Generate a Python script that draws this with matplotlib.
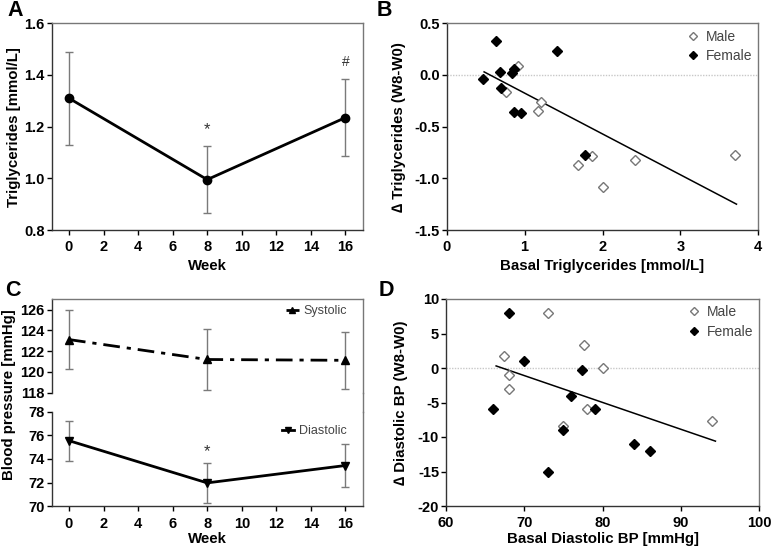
import matplotlib
matplotlib.use("Agg")
import matplotlib.pyplot as plt
from matplotlib.lines import Line2D
import numpy as np

plt.rcParams['font.family'] = ['Liberation Sans', 'DejaVu Sans']
plt.rcParams['axes.unicode_minus'] = False

# ---------------- data ----------------
weeks = [0, 8, 16]
tg_mean = [1.31, 0.995, 1.235]
tg_err = [0.18, 0.13, 0.15]

sys_mean = [123.12, 121.2, 121.12]
sys_err = [2.88, 2.96, 2.72]
dia_mean = [75.55, 71.98, 73.45]
dia_err = [1.68, 1.69, 1.86]

b_male_x = [0.92, 0.76, 1.21, 1.17, 1.69, 1.86, 2.01, 2.42, 3.70]
b_male_y = [0.09, -0.16, -0.26, -0.35, -0.87, -0.78, -1.08, -0.82, -0.77]
b_female_x = [0.46, 0.63, 0.68, 0.70, 0.84, 0.87, 0.86, 0.96, 1.41, 1.78]
b_female_y = [-0.04, 0.33, 0.03, -0.13, 0.02, 0.06, -0.36, -0.37, 0.23, -0.77]
b_fit_x = [0.48, 3.72]
b_fit_y = [0.03, -1.25]

d_male_x = [67.4, 68, 68, 73, 75, 77.6, 78, 80, 94]
d_male_y = [1.7, -1.0, -3.0, 8.0, -8.4, 3.4, -6.0, 0.0, -7.7]
d_female_x = [66, 68, 70, 73, 75, 76, 77.3, 79, 84, 86]
d_female_y = [-6, 8, 1, -15, -9, -4, -0.3, -6, -11, -12]
d_fit_x = [66.4, 94.4]
d_fit_y = [0.3, -10.6]

W, H = 772, 550
fig = plt.figure(figsize=(W / 100, H / 100), dpi=100)


def rect(l, t, r, b):
    return [l / W, 1 - b / H, (r - l) / W, (b - t) / H]


TICK_FS = 10.5
LAB_FS = 10.8
SPINE_DARK = '#333333'
SPINE_LIGHT = '#777777'
ERR_C = '#7a7a7a'


def style(ax, hide_top=False, hide_bottom=False):
    for s in ['left', 'bottom']:
        ax.spines[s].set_color(SPINE_DARK)
        ax.spines[s].set_linewidth(1.0)
    for s in ['top', 'right']:
        ax.spines[s].set_color(SPINE_LIGHT)
        ax.spines[s].set_linewidth(1.0)
    if hide_top:
        ax.spines['top'].set_visible(False)
    if hide_bottom:
        ax.spines['bottom'].set_visible(False)
    ax.tick_params(direction='out', length=3.5, width=1.0, labelsize=TICK_FS,
                   colors='black')
    ax.tick_params(axis='y', pad=1.5)
    ax.tick_params(axis='x', pad=4)
    for lab in ax.get_xticklabels() + ax.get_yticklabels():
        lab.set_fontweight('bold')


# ---------------- Panel A ----------------
axA = fig.add_axes(rect(51.7, 23.3, 362.7, 230))
axA.errorbar(weeks, tg_mean, yerr=tg_err, fmt='none', ecolor=ERR_C, elinewidth=1,
             capsize=3, capthick=1, zorder=1)
axA.plot(weeks, tg_mean, '-o', color='black', lw=2, ms=6, zorder=3)
axA.set_xlim(-1, 17)
axA.set_ylim(0.8, 1.6)
axA.set_xticks(range(0, 17, 2))
axA.set_yticks([0.8, 1.0, 1.2, 1.4, 1.6])
axA.set_yticklabels([f'{v:.1f}' for v in [0.8, 1.0, 1.2, 1.4, 1.6]])
axA.text(8, 1.187, '*', ha='center', va='center', fontsize=12, color='#333333')
axA.text(16, 1.452, '#', ha='center', va='center', fontsize=10, color='#333333')
axA.set_xlabel('Week', fontsize=LAB_FS, fontweight='bold', labelpad=3)
axA.set_ylabel('Triglycerides [mmol/L]', fontsize=LAB_FS, fontweight='bold', labelpad=2)
style(axA)

# ---------------- Panel B ----------------
axB = fig.add_axes(rect(446.7, 23.3, 758.3, 230))
axB.axhline(0, color='#c8c8c8', lw=1, ls=(0, (1, 1)), zorder=0)
axB.plot(b_fit_x, b_fit_y, '-', color='black', lw=1.1, zorder=2)
axB.plot(b_male_x, b_male_y, 'D', ms=5, mfc='white', mec='#777777', mew=1,
         ls='none', label='Male', zorder=3)
axB.plot(b_female_x, b_female_y, 'D', ms=5, mfc='black', mec='black',
         ls='none', label='Female', zorder=3)
axB.set_xlim(0, 4)
axB.set_ylim(-1.5, 0.5)
axB.set_xticks([0, 1, 2, 3, 4])
yb = [-1.5, -1.0, -0.5, 0.0, 0.5]
axB.set_yticks(yb)
axB.set_yticklabels([f'{v:.1f}' for v in yb])
axB.set_xlabel('Basal Triglycerides [mmol/L]', fontsize=LAB_FS, fontweight='bold', labelpad=3)
axB.set_ylabel('\u2206 Triglycerides (W8-W0)', fontsize=LAB_FS, fontweight='bold', labelpad=6)
legB = axB.legend(loc='upper right', frameon=False, fontsize=10, handlelength=0.8,
                  handletextpad=0.5, labelspacing=0.4, borderaxespad=0.05,
                  markerscale=0.75)
for t in legB.get_texts():
    t.set_color('#444444')
style(axB)

# ---------------- Panel C ----------------
axCu = fig.add_axes(rect(51.7, 299.3, 362.7, 392.7))
axCl = fig.add_axes(rect(51.7, 411.7, 362.7, 506.3))
axCu.errorbar(weeks, sys_mean, yerr=sys_err, fmt='none', ecolor=ERR_C, elinewidth=1,
              capsize=3, capthick=1, zorder=1)
axCu.plot(weeks, sys_mean, marker='^', color='black', lw=2, ms=6,
          ls=(0, (6, 2.5, 1.5, 2.5)), zorder=3, label='Systolic')
axCl.errorbar(weeks, dia_mean, yerr=dia_err, fmt='none', ecolor=ERR_C, elinewidth=1,
              capsize=3, capthick=1, zorder=1)
axCl.plot(weeks, dia_mean, marker='v', color='black', lw=2, ms=6, ls='-',
          zorder=3, label='Diastolic')
axCl.text(8, 74.62, '*', ha='center', va='center', fontsize=12, color='#333333')
for ax in (axCu, axCl):
    ax.set_xlim(-1, 17)
axCu.set_ylim(118, 127)
axCu.set_yticks([118, 120, 122, 124, 126])
axCl.set_ylim(70, 78)
axCl.set_yticks([70, 72, 74, 76, 78])
axCl.set_xticks(range(0, 17, 2))
axCu.set_xticks([])
axCl.set_xlabel('Week', fontsize=LAB_FS, fontweight='bold', labelpad=1)
fig.text(9.5 / W, 1 - 395 / H, 'Blood pressure [mmHg]', rotation=90,
         ha='center', va='center', fontsize=LAB_FS, fontweight='bold')
style(axCu, hide_bottom=True)
style(axCl, hide_top=True)
for ax, anchor in ((axCu, (0.966, 0.99)), (axCl, (0.966, 0.907))):
    lg = ax.legend(loc='upper right', bbox_to_anchor=anchor, frameon=False,
                   fontsize=9, handlelength=1.0, handletextpad=0.4,
                   borderaxespad=0.0, markerscale=0.8)
    for t in lg.get_texts():
        t.set_color('#444444')
fig.add_artist(Line2D([362.7 / W, 362.7 / W], [1 - 392.7 / H, 1 - 411.7 / H],
                      transform=fig.transFigure, color=SPINE_LIGHT, lw=1.0))

# ---------------- Panel D ----------------
axD = fig.add_axes(rect(446, 299, 759.3, 506))
axD.axhline(0, color='#c8c8c8', lw=1, ls=(0, (1, 1)), zorder=0)
axD.plot(d_fit_x, d_fit_y, '-', color='black', lw=1.1, zorder=2)
axD.plot(d_male_x, d_male_y, 'D', ms=5, mfc='white', mec='#777777', mew=1,
         ls='none', label='Male', zorder=3)
axD.plot(d_female_x, d_female_y, 'D', ms=5, mfc='black', mec='black',
         ls='none', label='Female', zorder=3)
axD.set_xlim(60, 100)
axD.set_ylim(-20, 10)
axD.set_xticks([60, 70, 80, 90, 100])
axD.set_yticks([-20, -15, -10, -5, 0, 5, 10])
axD.set_xlabel('Basal Diastolic BP [mmHg]', fontsize=LAB_FS, fontweight='bold', labelpad=1)
axD.set_ylabel('\u2206 Diastolic BP (W8-W0)', fontsize=LAB_FS, fontweight='bold', labelpad=7)
legD = axD.legend(loc='upper right', frameon=False, fontsize=10, handlelength=0.8,
                  handletextpad=0.5, labelspacing=0.4, borderaxespad=0.05,
                  markerscale=0.75)
for t in legD.get_texts():
    t.set_color('#444444')
style(axD)

# ---------------- panel letters ----------------
for lbl, x, y in (('A', 7, 10), ('B', 377, 10), ('C', 5, 290), ('D', 379, 291)):
    fig.text(x / W, 1 - y / H, lbl, ha='left', va='center', fontsize=15.5,
             fontweight='bold')

fig.savefig('out.png', dpi=100)
